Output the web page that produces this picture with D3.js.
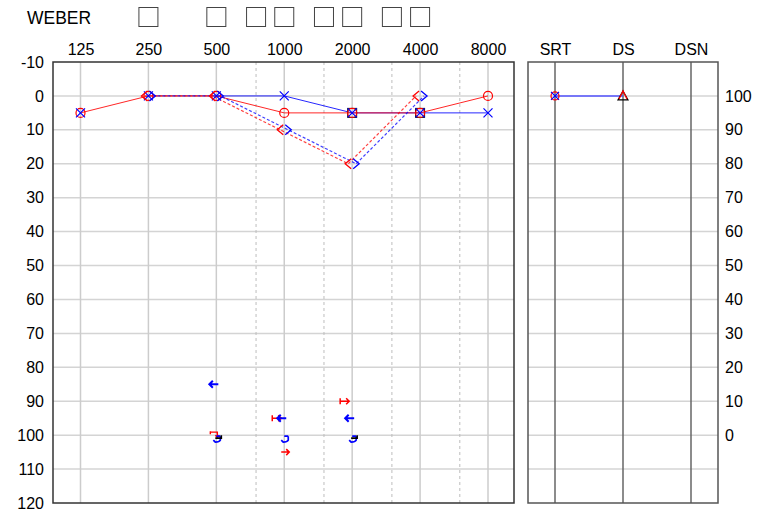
<!DOCTYPE html>
<html>
<head>
<meta charset="utf-8">
<script src="https://cdn.jsdelivr.net/npm/d3@7"></script>
<style>
  html, body { margin: 0; padding: 0; background: #fff; }
  svg { display: block; font-family: "Liberation Sans", Arial, sans-serif; }
</style>
</head>
<body>
<svg id="chart" width="762" height="511"></svg>
<script>
// ---------- data ----------
const freqs = [125, 250, 500, 1000, 2000, 4000, 8000];
const freqLabels = ["125", "250", "500", "1000", "2000", "4000", "8000"];
const midFreqs = [750, 1500, 3000, 6000];
const dbTicks = [-10, 0, 10, 20, 30, 40, 50, 60, 70, 80, 90, 100, 110, 120];
const gridDb = [0, 10, 20, 30, 40, 50, 60, 70, 80, 90, 100, 110];

const rightAirDb = [5, 0, 0, 5, 5, 5, 0];   // red O
const leftAirDb  = [5, 0, 0, 0, 5, 5, 5];   // blue X
const boxFreqs = [2000, 4000];
const boxDb = [5, 5];

const boneFreqs = [250, 500, 1000, 2000, 4000];
const rightBoneDb = [0, 0, 10, 20, 0];      // red <
const leftBoneDb  = [0, 0, 10, 20, 0];      // blue >

const redArrowFreqs = [2000, 1000];
const redArrowDb = [90, 95];
const redArrow2Freqs = [1000];
const redArrow2Db = [105];
const blueArrowFreqs = [500, 1000, 2000];
const blueArrowDb = [85, 95, 95];
const blueHookFreqs = [500, 1000, 2000];
const blueHookDb = [100, 100, 100];
const blackMarkFreqs = [500, 2000];
const blackMarkDb = [100, 100];
const redHookFreqs = [500];
const redHookDb = [100];

const weberFreqs = [250, 500, 750, 1000, 1500, 2000, 3000, 4000];

const speechCols = ["SRT", "DS", "DSN"];
const speechTicks = [0, 10, 20, 30, 40, 50, 60, 70, 80, 90, 100];
const speechGrid = [100, 90, 80, 70, 60, 50, 40, 30, 20, 10, 0, -10];
const srtDb = 0;      // both ears
const dsScore = 100;  // %

// ---------- scales ----------
const svg = d3.select("#chart");
const x = d3.scaleLog().base(2).domain([125, 8000]).range([80.5, 488]);
const y = d3.scaleLinear().domain([-10, 120]).range([62, 503]);
const yR = d3.scaleLinear().domain([110, -20]).range([62, 503]);
const xs = d3.scalePoint().domain(speechCols).range([555, 691]);

const L = 53, R = 514, T = 62, B = 503;
const SL = 528, SR = 718;

const RED = "#ff0000", BLUE = "#0000ff";
const FONT = "Liberation Sans, Arial, sans-serif";

// ---------- grid main ----------
const g = svg.append("g");
g.selectAll(".hg").data(gridDb).join("line")
  .attr("x1", L).attr("x2", R).attr("y1", d => y(d)).attr("y2", d => y(d))
  .attr("stroke", "#d4d4d4").attr("stroke-width", 1.5);
g.selectAll(".vg").data(freqs).join("line")
  .attr("x1", d => x(d)).attr("x2", d => x(d)).attr("y1", T).attr("y2", B)
  .attr("stroke", "#cccccc").attr("stroke-width", 1.5);
g.selectAll(".vm").data(midFreqs).join("line")
  .attr("x1", d => x(d)).attr("x2", d => x(d)).attr("y1", T).attr("y2", B)
  .attr("stroke", "#bdbdbd").attr("stroke-width", 1).attr("stroke-dasharray", "3,3");

g.append("rect").attr("x", L).attr("y", T).attr("width", R - L).attr("height", B - T)
  .attr("fill", "none").attr("stroke", "#333").attr("stroke-width", 1.5);

const axL = d3.axisLeft(y).tickValues(dbTicks).tickSize(0).tickPadding(9).tickFormat(d => String(d));
svg.append("g").attr("transform", `translate(${L},0)`).call(axL)
  .call(s => s.select(".domain").remove())
  .selectAll("text").attr("font-size", 16).attr("fill", "#000").attr("font-family", FONT);

const axT = d3.axisTop(x).tickValues(freqs).tickSize(0).tickPadding(7)
  .tickFormat(d => freqLabels[freqs.indexOf(d)]);
svg.append("g").attr("transform", `translate(0,${T})`).call(axT)
  .call(s => s.select(".domain").remove())
  .selectAll("text").attr("font-size", 16).attr("fill", "#000").attr("font-family", FONT);

svg.append("text").attr("x", 27).attr("y", 24).attr("font-size", 17.5).attr("font-family", FONT).text("WEBER");
svg.selectAll(".wb").data(weberFreqs).join("rect")
  .attr("x", d => x(d) - 9.5).attr("y", 7.5).attr("width", 19).attr("height", 19)
  .attr("fill", "none").attr("stroke", "#444").attr("stroke-width", 1);

// ---------- lines ----------
const line = d3.line().x(d => d[0]).y(d => d[1]);
svg.append("path").datum(freqs.map((f, i) => [x(f), y(leftAirDb[i])]).slice(2))
  .attr("d", line).attr("fill", "none").attr("stroke", BLUE).attr("stroke-width", 1).attr("opacity", 0.85);
svg.append("path").datum(freqs.map((f, i) => [x(f), y(rightAirDb[i])]))
  .attr("d", line).attr("fill", "none").attr("stroke", RED).attr("stroke-width", 1).attr("opacity", 0.85);

svg.append("path").datum(boneFreqs.map((f, i) => [x(f) - 4, y(rightBoneDb[i])]))
  .attr("d", line).attr("fill", "none").attr("stroke", RED).attr("stroke-width", 1.2)
  .attr("stroke-dasharray", "3,2").attr("opacity", 0.75);
svg.append("path").datum(boneFreqs.map((f, i) => [x(f) + 4, y(leftBoneDb[i])]))
  .attr("d", line).attr("fill", "none").attr("stroke", BLUE).attr("stroke-width", 1.2)
  .attr("stroke-dasharray", "3,2").attr("opacity", 0.75);

// ---------- symbols ----------
svg.selectAll(".bx").data(boxFreqs).join("rect")
  .attr("x", d => x(d) - 4.5).attr("y", (d, i) => y(boxDb[i]) - 4.5)
  .attr("width", 9).attr("height", 9).attr("fill", "none").attr("stroke", "#111").attr("stroke-width", 1);
svg.selectAll(".ro").data(freqs).join("circle")
  .attr("cx", d => x(d)).attr("cy", (d, i) => y(rightAirDb[i])).attr("r", 4.5)
  .attr("fill", "none").attr("stroke", RED).attr("stroke-width", 1.2);
svg.selectAll(".bxx").data(freqs).join("path")
  .attr("d", (d, i) => { const cx = x(d), cy = y(leftAirDb[i]), s = 4.5;
    return `M${cx - s},${cy - s}L${cx + s},${cy + s}M${cx - s},${cy + s}L${cx + s},${cy - s}`; })
  .attr("fill", "none").attr("stroke", BLUE).attr("stroke-width", 1.2);
svg.selectAll(".rb").data(boneFreqs).join("path")
  .attr("d", (d, i) => { const cx = x(d) - 4, cy = y(rightBoneDb[i]);
    return `M${cx + 3},${cy - 5}L${cx - 3},${cy}L${cx + 3},${cy + 5}`; })
  .attr("fill", "none").attr("stroke", RED).attr("stroke-width", 1.3);
svg.selectAll(".bb").data(boneFreqs).join("path")
  .attr("d", (d, i) => { const cx = x(d) + 4, cy = y(leftBoneDb[i]);
    return `M${cx - 3},${cy - 5}L${cx + 3},${cy}L${cx - 3},${cy + 5}`; })
  .attr("fill", "none").attr("stroke", BLUE).attr("stroke-width", 1.3);

svg.selectAll(".ra").data(redArrowFreqs).join("path")
  .attr("d", (d, i) => { const x0 = x(d) - 12, cy = y(redArrowDb[i]);
    return `M${x0},${cy - 3}V${cy + 3}M${x0},${cy}H${x0 + 9}M${x0 + 6},${cy - 3}L${x0 + 9},${cy}L${x0 + 6},${cy + 3}`; })
  .attr("fill", "none").attr("stroke", RED).attr("stroke-width", 1.5);
svg.selectAll(".ra2").data(redArrow2Freqs).join("path")
  .attr("d", (d, i) => { const x0 = x(d) - 3, cy = y(redArrow2Db[i]);
    return `M${x0},${cy}H${x0 + 8}M${x0 + 5},${cy - 3}L${x0 + 8},${cy}L${x0 + 5},${cy + 3}`; })
  .attr("fill", "none").attr("stroke", RED).attr("stroke-width", 1.5);
svg.selectAll(".ba").data(blueArrowFreqs).join("path")
  .attr("d", (d, i) => { const x0 = x(d) - 7, cy = y(blueArrowDb[i]);
    return `M${x0},${cy}H${x0 + 9}M${x0 + 3.5},${cy - 3.5}L${x0},${cy}L${x0 + 3.5},${cy + 3.5}`; })
  .attr("fill", "none").attr("stroke", BLUE).attr("stroke-width", 2);
svg.selectAll(".rh").data(redHookFreqs).join("path")
  .attr("d", (d, i) => { const cx = x(d), cy = y(redHookDb[i]);
    return `M${cx - 6},${cy - 4}V${cy - 1}M${cx - 6},${cy - 3}H${cx + 1}V${cy + 2}M${cx - 1},${cy}L${cx + 1},${cy + 2}L${cx + 3},${cy}`; })
  .attr("fill", "none").attr("stroke", RED).attr("stroke-width", 1.4);
svg.selectAll(".bh").data(blueHookFreqs).join("path")
  .attr("d", (d, i) => { const cx = x(d), cy = y(blueHookDb[i]);
    return `M${cx + 4},${cy + 1}H${cx}M${cx + 4},${cy + 1}V${cy + 5}Q${cx + 3},${cy + 7} ${cx - 1},${cy + 7}L${cx - 3},${cy + 5}`; })
  .attr("fill", "none").attr("stroke", BLUE).attr("stroke-width", 1.7);
svg.selectAll(".km").data(blackMarkFreqs).join("path")
  .attr("d", (d, i) => { const cx = x(d), cy = y(blackMarkDb[i]);
    return `M${cx - 1},${cy + 3}H${cx + 5}V${cy}`; })
  .attr("fill", "none").attr("stroke", "#000").attr("stroke-width", 1.6);

// ---------- speech panel ----------
const sp = svg.append("g");
sp.selectAll(".sg").data(speechGrid).join("line")
  .attr("x1", SL).attr("x2", SR).attr("y1", d => yR(d)).attr("y2", d => yR(d))
  .attr("stroke", "#d4d4d4").attr("stroke-width", 1.5);
sp.selectAll(".sv").data(speechCols).join("line")
  .attr("x1", d => xs(d)).attr("x2", d => xs(d)).attr("y1", T).attr("y2", B)
  .attr("stroke", "#666").attr("stroke-width", 1.5);
sp.append("rect").attr("x", SL).attr("y", T).attr("width", SR - SL).attr("height", B - T)
  .attr("fill", "none").attr("stroke", "#555").attr("stroke-width", 1.5);

const axS = d3.axisTop(xs).tickSize(0).tickPadding(7);
svg.append("g").attr("transform", `translate(0,${T})`).call(axS)
  .call(s => s.select(".domain").remove())
  .selectAll("text").attr("font-size", 16).attr("fill", "#000").attr("font-family", FONT);

const axR = d3.axisRight(yR).tickValues(speechTicks).tickSize(0).tickPadding(7).tickFormat(d => String(d));
svg.append("g").attr("transform", `translate(${SR},0)`).call(axR)
  .call(s => s.select(".domain").remove())
  .selectAll("text").attr("font-size", 16).attr("fill", "#000").attr("font-family", FONT);

const srtY = y(srtDb), dsY = yR(dsScore);
svg.append("path").datum([[xs("SRT"), srtY], [xs("DS"), dsY]])
  .attr("d", line).attr("stroke", "#5555ff").attr("stroke-width", 1.5).attr("fill", "none");
svg.append("circle").attr("cx", xs("SRT")).attr("cy", srtY).attr("r", 4)
  .attr("fill", "none").attr("stroke", RED).attr("stroke-width", 1.2);
svg.append("path").attr("d", () => { const cx = xs("SRT"), cy = srtY, s = 4;
    return `M${cx - s},${cy - s}L${cx + s},${cy + s}M${cx - s},${cy + s}L${cx + s},${cy - s}`; })
  .attr("stroke", BLUE).attr("stroke-width", 1.2);
svg.append("path").attr("d", () => { const cx = xs("DS"), cy = dsY;
    return `M${cx},${cy - 5}L${cx + 5},${cy + 4}L${cx - 5},${cy + 4}Z`; })
  .attr("fill", "none").attr("stroke", "#000").attr("stroke-width", 1.2);
svg.append("path").attr("d", () => { const cx = xs("DS"), cy = dsY;
    return `M${cx - 4},${cy + 3}L${cx},${cy - 5}L${cx + 4},${cy + 3}`; })
  .attr("fill", "none").attr("stroke", RED).attr("stroke-width", 1.2);
</script>
</body>
</html>
